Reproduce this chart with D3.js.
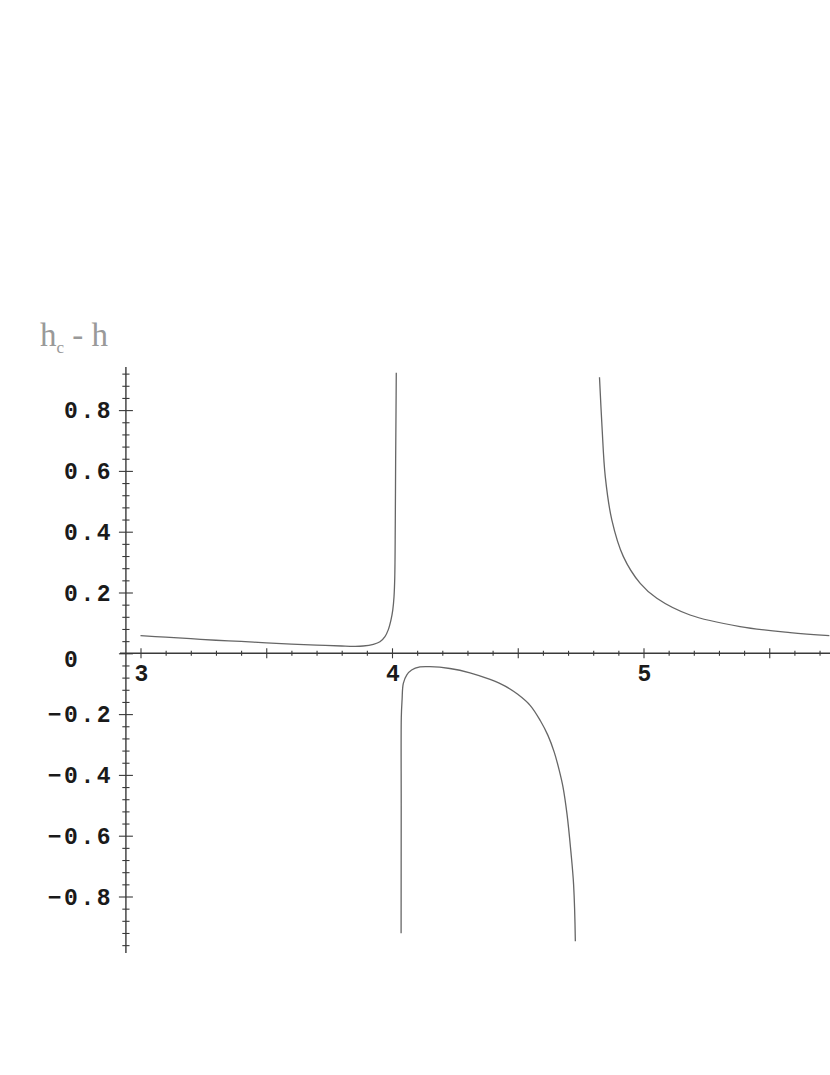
<!DOCTYPE html>
<html>
<head>
<meta charset="utf-8">
<script src="https://cdn.jsdelivr.net/npm/d3@7"></script>
<style>
  html, body { margin: 0; padding: 0; background: #fff; }
  svg { display: block; }
</style>
</head>
<body>
<svg id="chart" width="830" height="1075"></svg>
<script>
// ---- data ----
const branch1X = [3.0, 3.1, 3.2, 3.3, 3.4, 3.5, 3.6, 3.7, 3.8, 3.85, 3.885, 3.926, 3.952, 3.972, 3.985, 3.996, 4.003, 4.008, 4.011, 4.013, 4.0145, 4.016, 4.017];
const branch1Y = [0.058, 0.053, 0.048, 0.043, 0.039, 0.034, 0.030, 0.027, 0.024, 0.023, 0.024, 0.0296, 0.038, 0.055, 0.077, 0.110, 0.142, 0.186, 0.25, 0.42, 0.64, 0.80, 0.923];

const branch2X = [4.0362, 4.0366, 4.037, 4.040, 4.045, 4.059, 4.078, 4.111, 4.150, 4.230, 4.310, 4.390, 4.450, 4.500, 4.550, 4.590, 4.620, 4.645, 4.665, 4.680, 4.696, 4.711, 4.722, 4.729];
const branch2Y = [-0.921, -0.5, -0.21, -0.154, -0.099, -0.071, -0.055, -0.045, -0.044, -0.050, -0.064, -0.086, -0.108, -0.135, -0.172, -0.222, -0.270, -0.325, -0.385, -0.440, -0.530, -0.650, -0.760, -0.947];

const branch3X = [4.825, 4.835, 4.848, 4.874, 4.920, 4.987, 5.053, 5.185, 5.384, 5.583, 5.739];
const branch3Y = [0.908, 0.746, 0.581, 0.439, 0.318, 0.230, 0.181, 0.126, 0.088, 0.068, 0.058];

const xTickLabels = [3, 4, 5];
const yTickLabels = [0.8, 0.6, 0.4, 0.2, 0, -0.2, -0.4, -0.6, -0.8];
const yAxisTitle = "h";
const yAxisTitleSub = "c";
const yAxisTitleRest = " - h";

// ---- scales ----
const svg = d3.select("#chart");
const x = d3.scaleLinear().domain([3, 5]).range([140.5, 643.5]);
const y = d3.scaleLinear().domain([0, 0.2]).range([653.3, 592.5]);

const yAxisX = x(2.942);
const xAxisY = y(0);
const axisColor = "#3a3a3a";
const curveColor = "#666";

// ---- x axis ----
const xMinor = d3.range(30, 58).map(d => d / 10);
const xMajor = d3.range(6, 12).map(d => d / 2).filter(d => d <= 5.7);

const gx = svg.append("g").attr("transform", `translate(0,${xAxisY})`);
gx.call(d3.axisBottom(x).tickValues(xMinor).tickSize(0).tickFormat(""));
gx.select(".domain").remove();
gx.selectAll(".tick line")
  .attr("y1", d => xMajor.some(m => Math.abs(m - d) < 1e-9) ? -5 : -2.5)
  .attr("y2", d => xMajor.some(m => Math.abs(m - d) < 1e-9) ? 5 : 2.5)
  .attr("stroke", axisColor).attr("stroke-width", 1.1);
gx.append("line").attr("x1", 120).attr("x2", 830).attr("y1", 0).attr("y2", 0)
  .attr("stroke", axisColor).attr("stroke-width", 1.4);

// ---- y axis ----
const yMinor = d3.range(-24, 24).map(d => +(d * 0.04).toFixed(2));
const yMajor = d3.range(-4, 5).map(d => +(d * 0.2).toFixed(2));
const gy = svg.append("g").attr("transform", `translate(${yAxisX},0)`);
gy.call(d3.axisLeft(y).tickValues(yMinor).tickSize(0).tickFormat(""));
gy.select(".domain").remove();
gy.selectAll(".tick line")
  .attr("x1", d => yMajor.some(m => Math.abs(m - d) < 1e-6) ? -7 : -3.6)
  .attr("x2", d => yMajor.some(m => Math.abs(m - d) < 1e-6) ? 7 : 3.6)
  .attr("stroke", axisColor).attr("stroke-width", 1.1);
gy.append("line").attr("x1", 0).attr("x2", 0).attr("y1", y(0.942)).attr("y2", y(-0.986))
  .attr("stroke", axisColor).attr("stroke-width", 1.4);

// ---- tick labels ----
const labelFont = "'Liberation Mono', 'Courier New', monospace";
svg.append("g").selectAll("text").data(yTickLabels).join("text")
  .attr("x", 113)
  .attr("y", d => y(d) + (d === 0 ? 6 : 0))
  .attr("dy", "0.35em")
  .attr("text-anchor", "end")
  .attr("font-family", labelFont)
  .attr("font-weight", "bold")
  .attr("font-size", 23)
  .attr("letter-spacing", 2.5)
  .attr("fill", "#1a1a1a")
  .style("white-space", "pre")
  .text(d => d === 0 ? "0  " : (d < 0 ? "\u2212" : "") + Math.abs(d).toFixed(1));

svg.append("g").selectAll("text").data(xTickLabels).join("text")
  .attr("x", d => x(d) + 1)
  .attr("y", 681)
  .attr("text-anchor", "middle")
  .attr("font-family", labelFont)
  .attr("font-weight", "bold")
  .attr("font-size", 23)
  .attr("fill", "#1a1a1a")
  .text(d => d);

// ---- axis title ----
const title = svg.append("text")
  .attr("x", 40).attr("y", 346)
  .attr("font-family", "'Liberation Serif', 'Times New Roman', serif")
  .attr("font-size", 33)
  .attr("fill", "#999");
title.append("tspan").text(yAxisTitle);
title.append("tspan").attr("font-size", 17).attr("dy", 7).text(yAxisTitleSub);
title.append("tspan").attr("dy", -7).style("white-space", "pre").text(yAxisTitleRest);

// ---- curves ----
const line = d3.line().x(d => x(d[0])).y(d => y(d[1])).curve(d3.curveCatmullRom.alpha(0.5));
const branches = [
  d3.zip(branch1X, branch1Y),
  d3.zip(branch2X, branch2Y),
  d3.zip(branch3X, branch3Y)
];
svg.append("g").selectAll("path").data(branches).join("path")
  .attr("d", line)
  .attr("fill", "none")
  .attr("stroke", curveColor)
  .attr("stroke-width", 1.3);
</script>
</body>
</html>
